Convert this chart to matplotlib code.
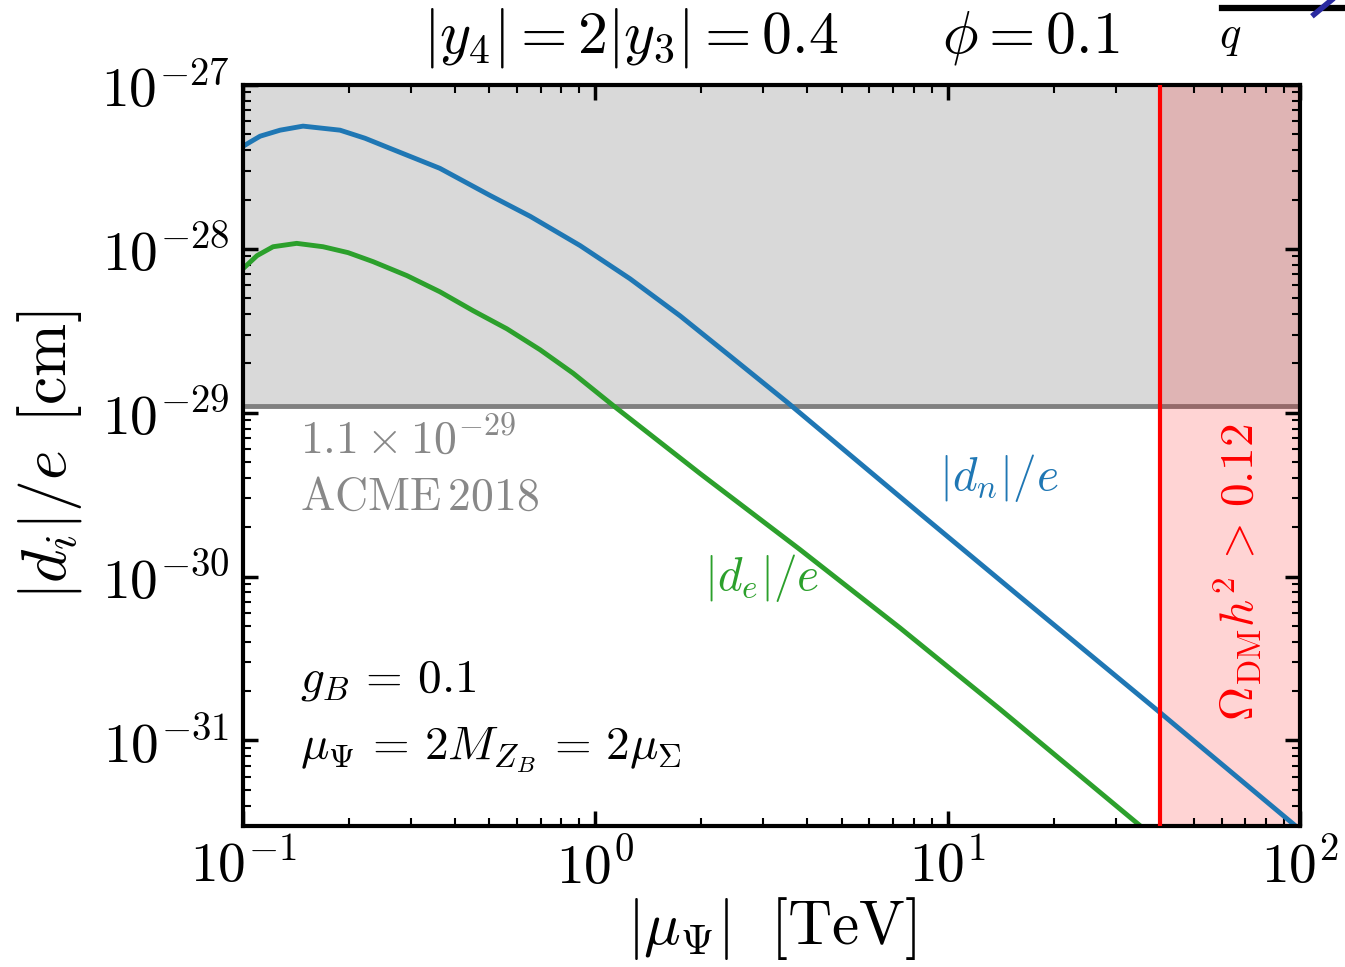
import math
import matplotlib
matplotlib.use("Agg")
import matplotlib.pyplot as plt
from matplotlib import ticker
from matplotlib.lines import Line2D

plt.rcParams["mathtext.fontset"] = "cm"
plt.rcParams["font.family"] = "serif"

# |mu_Psi| in TeV and EDMs in e cm
mu_n = [0.1, 0.1118, 0.1274, 0.148, 0.1885, 0.222, 0.261, 0.362, 0.502,
        0.653, 0.905, 1.254, 1.74, 2.41, 3.50, 4.64, 8.35, 16.05, 39.3,
        95.5, 100.0]
d_n = [4.23e-28, 4.87e-28, 5.30e-28, 5.61e-28, 5.30e-28, 4.73e-28, 4.11e-28,
       3.10e-28, 2.12e-28, 1.58e-28, 1.047e-28, 6.57e-29, 3.90e-29, 2.22e-29,
       1.16e-29, 6.98e-30, 2.42e-30, 7.52e-31, 1.53e-31, 3.10e-32, 2.85e-32]

mu_e = [0.1, 0.1096, 0.1217, 0.142, 0.1687, 0.1987, 0.234, 0.292, 0.362,
        0.450, 0.561, 0.697, 0.865, 1.127, 1.98, 3.81, 7.33, 14.08, 35.2]
d_e = [7.57e-29, 9.09e-29, 1.03e-28, 1.08e-28, 1.03e-28, 9.48e-29, 8.35e-29,
       6.86e-29, 5.47e-29, 4.19e-29, 3.25e-29, 2.42e-29, 1.74e-29, 1.10e-29,
       4.26e-30, 1.46e-30, 4.85e-31, 1.55e-31, 3.01e-32]

acme_limit = 1.1e-29
relic_mu = 40.0
x_range = (0.1, 100.0)
y_range = (3e-32, 1e-27)
x_major = [0.1, 1.0, 10.0, 100.0]
y_major = [1e-31, 1e-30, 1e-29, 1e-28, 1e-27]

fig = plt.figure(figsize=(13.45, 9.67), dpi=100)
ax = fig.add_axes([0.1807, 0.1458, 0.7858, 0.7663])

ax.axhspan(acme_limit, y_range[1], color="#d9d9d9", zorder=0, lw=0)
ax.axhline(acme_limit, color="#808080", lw=3.5, zorder=1)
ax.axvspan(relic_mu, x_range[1], color="red", alpha=0.17, lw=0, zorder=1)
ax.axvline(relic_mu, color="red", lw=3, zorder=3)

ax.plot(mu_n, d_n, color="#1f77b4", lw=3.5, zorder=2, solid_joinstyle="round")
ax.plot(mu_e, d_e, color="#2ca02c", lw=3.5, zorder=2, solid_joinstyle="round")

ax.set_xscale("log")
ax.set_yscale("log")
ax.set_xlim(*x_range)
ax.set_ylim(*y_range)

fmt = ticker.FuncFormatter(lambda v, p: r"$10^{%d}$" % round(math.log10(v)))
ax.set_xticks(x_major)
ax.set_yticks(y_major)
ax.xaxis.set_major_formatter(fmt)
ax.yaxis.set_major_formatter(fmt)
ax.xaxis.set_minor_locator(ticker.LogLocator(base=10, subs=range(2, 10), numticks=20))
ax.yaxis.set_minor_locator(ticker.LogLocator(base=10, subs=range(2, 10), numticks=20))
ax.xaxis.set_minor_formatter(ticker.NullFormatter())
ax.yaxis.set_minor_formatter(ticker.NullFormatter())

ax.tick_params(which="both", direction="in", top=True, right=True, labelsize=40)
ax.tick_params(which="major", length=11, width=2.5, pad=10)
ax.tick_params(which="minor", length=6, width=1.5)
for s in ax.spines.values():
    s.set_linewidth(3)

ax.set_xlabel(r"$|\mu_\Psi|\ \ [\mathrm{TeV}]$", fontsize=44, labelpad=0)
ax.set_ylabel(r"$|d_i|/e\ \,[\mathrm{cm}]$", fontsize=46, labelpad=12)

ax.text(0.5, 1.063, r"$|y_4| = 2|y_3| = 0.4\qquad \phi = 0.1$",
        transform=ax.transAxes, ha="center", va="center", fontsize=43)

ax.text(0.054, 0.521, r"$1.1\times10^{-29}$", transform=ax.transAxes,
        color="#888888", fontsize=33, va="center", ha="left")
ax.text(0.054, 0.444, r"$\mathrm{ACME\,2018}$", transform=ax.transAxes,
        color="#888888", fontsize=33, va="center", ha="left")
ax.text(0.054, 0.197, r"$g_B \,=\, 0.1$", transform=ax.transAxes,
        fontsize=34, va="center", ha="left")
ax.text(0.054, 0.103, r"$\mu_\Psi \,=\, 2M_{Z_B} \,=\, 2\mu_\Sigma$",
        transform=ax.transAxes, fontsize=34, va="center", ha="left")
ax.text(0.715, 0.470, r"$|d_n|/e$", transform=ax.transAxes, color="#1f77b4",
        fontsize=34, va="center", ha="center")
ax.text(0.491, 0.335, r"$|d_e|/e$", transform=ax.transAxes, color="#2ca02c",
        fontsize=34, va="center", ha="center")
ax.text(0.941, 0.343, r"$\Omega_{\mathrm{DM}}h^2 \,>\, 0.12$", transform=ax.transAxes,
        color="red", fontsize=34, va="center", ha="center", rotation=90)

# fragment of the neighbouring figure at the top right
fig.text(0.9145, 0.962, r"$q$", fontsize=32, ha="center", va="center")
fig.add_artist(Line2D([0.9086, 1.0], [0.9917, 0.9917], color="black", lw=4.5,
                      transform=fig.transFigure))
fig.add_artist(Line2D([0.977, 0.990], [0.985, 1.0], color="#2a2aa0", lw=4,
                      transform=fig.transFigure))

fig.savefig("out.png", dpi=100)
